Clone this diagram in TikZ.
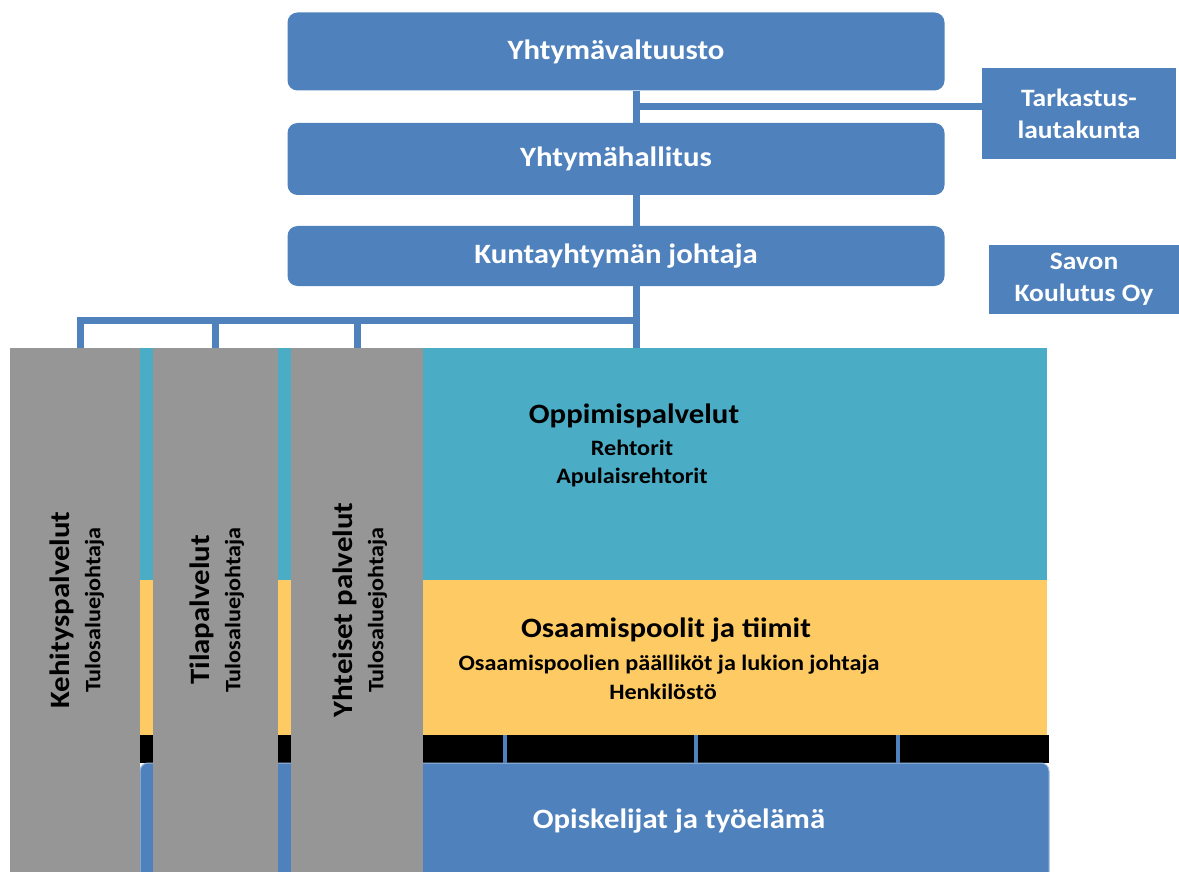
\documentclass[tikz,border=0pt]{standalone}
\usepackage{fontspec}
\setmainfont{Carlito}[FakeStretch=1.1]
\usetikzlibrary{calc}

\definecolor{orgblue}{RGB}{79,129,189}
\definecolor{orgcyan}{RGB}{75,172,198}
\definecolor{orggold}{RGB}{254,202,100}
\definecolor{orggray}{RGB}{150,150,150}

\tikzset{
  topbox/.style={fill=orgblue,rounded corners=10pt,text=white,inner sep=0pt,
    minimum width=657pt,font=\fontsize{28}{34}\selectfont\bfseries},
  sidebox/.style={fill=orgblue,text=white,inner sep=0pt,align=center,
    font=\fontsize{25}{32}\selectfont\bfseries},
  band/.style={inner sep=0pt,minimum width=907pt},
  column/.style={fill=orggray,inner sep=0pt,minimum height=542pt},
  coltext/.style={rotate=90,align=center,font=\fontsize{22}{31}\selectfont\bfseries},
  headtext/.style={anchor=base,font=\fontsize{28}{34}\selectfont\bfseries},
  subtext/.style={anchor=base,font=\fontsize{22}{26}\selectfont\bfseries},
  link/.style={draw=orgblue,line width=7pt},
  thinlink/.style={draw=orgblue,line width=4.5pt}
}

\begin{document}
\begin{tikzpicture}[x=1pt,y=-1pt]
	\useasboundingbox (0,0) rectangle (1179,872);

	\node[topbox,minimum height=78pt] (valt) at (616,51.5) {Yhtymävaltuusto};
	\node[topbox,minimum height=72pt] (hall) at (616,159) {Yhtymähallitus};
	\node[topbox,minimum height=60pt] (joht) at (616,256) {Kuntayhtymän johtaja};
	\node[sidebox,minimum width=194pt,minimum height=91pt] (tark) at (1079,113.5) {Tarkastus-\\lautakunta};
	\node[sidebox,minimum width=190pt,minimum height=69pt] (savon) at (1084,279) {Savon\\Koulutus Oy};

	\node[band,fill=orgcyan,minimum height=232pt] (oppi) at (593.5,464) {};
	\node[band,fill=orggold,minimum height=155pt] (osaa) at (593.5,657.5) {};
	\fill[black] (140,735) rectangle (1049,763);
	\node[band,fill=orgblue,draw=orgblue!55!white,line width=1pt,rounded corners=8pt,
		minimum width=909pt,minimum height=137pt] (opisk) at (594.5,831.5) {};

	\node[headtext] (oppih) at (634,423) {Oppimispalvelut};
	\node[subtext] (rehto) at (632,455) {Rehtorit};
	\node[subtext] (apul) at (632,483) {Apulaisrehtorit};
	\node[headtext] (osaah) at (666,637) {Osaamispoolit ja tiimit};
	\node[subtext] (pääl) at (669,670) {Osaamispoolien päälliköt ja lukion johtaja};
	\node[subtext] (henk) at (663,699) {Henkilöstö};
	\node[headtext,text=white] (opiskt) at (679,828) {Opiskelijat ja työelämä};

	\node[column,minimum width=130pt] (col1) at (75,619) {};
	\node[column,minimum width=125pt] (col2) at (215.5,619) {};
	\node[column,minimum width=132pt] (col3) at (357,619) {};
	\node[coltext] (kehi) at (77,610) {{\fontsize{28}{31}\selectfont Kehityspalvelut}\\Tulosaluejohtaja};
	\node[coltext] (tila) at (217,610) {{\fontsize{28}{31}\selectfont Tilapalvelut}\\Tulosaluejohtaja};
	\node[coltext] (yhte) at (360,610) {{\fontsize{28}{31}\selectfont Yhteiset palvelut}\\Tulosaluejohtaja};

	\coordinate (spine) at (636,320);
	\coordinate (tarkjoin) at (636,107);
	\draw[link] (valt.south -| spine) -- (hall.north -| spine);
	\draw[link] (hall.south -| spine) -- (joht.north -| spine);
	\draw[link] (joht.south -| spine) -- (oppi.north -| spine);
	\draw[link] (tarkjoin) -- (tarkjoin -| tark.west);
	\draw[link] ([xshift=5pt]col1.north) |- (spine);
	\draw[link] (col2.north) -- (col2.north |- spine);
	\draw[link] (col3.north) -- (col3.north |- spine);

	\foreach \x [count=\i] in {505,696,898} {
		\coordinate (tap\i) at (\x,0);
		\draw[thinlink] (osaa.south -| tap\i) -- (opisk.north -| tap\i);
	}
\end{tikzpicture}
\end{document}
